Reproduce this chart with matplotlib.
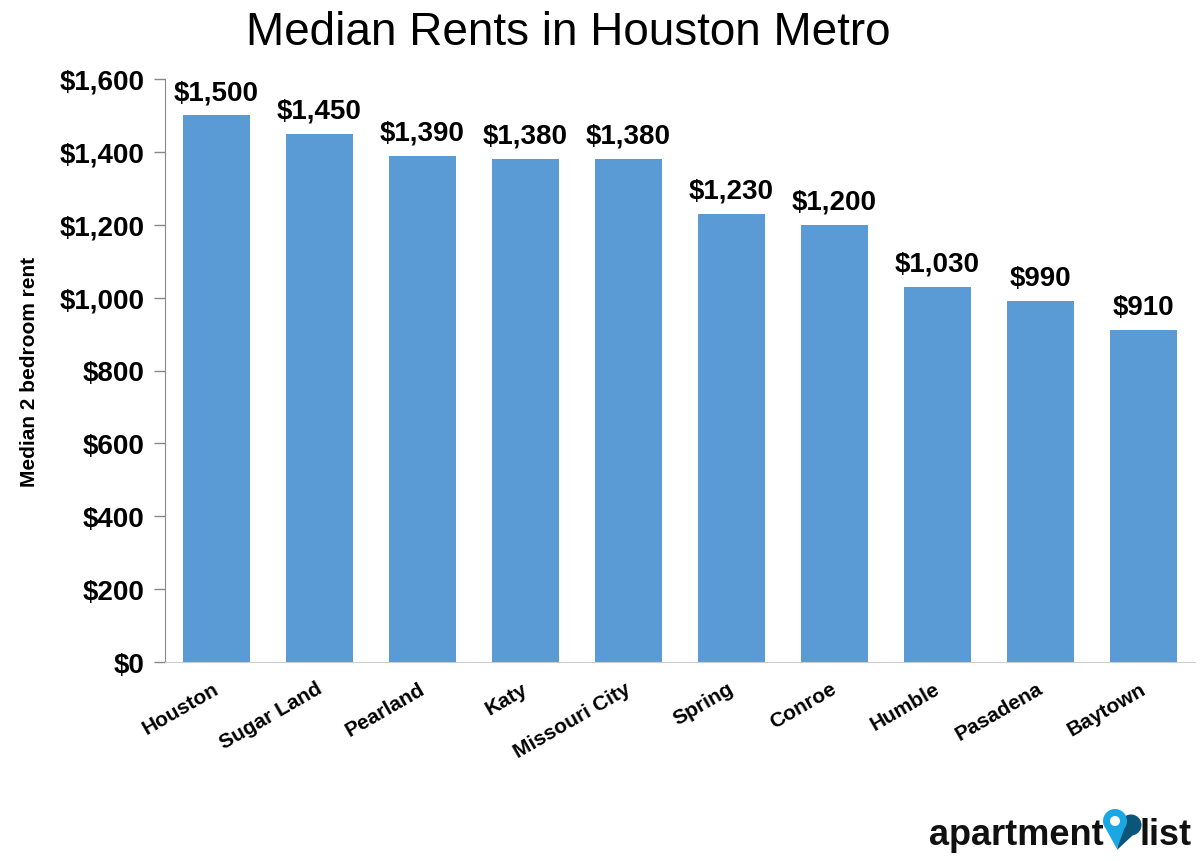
import numpy as np
import matplotlib.pyplot as plt
import matplotlib.transforms as mtransforms
from matplotlib.ticker import FuncFormatter
from matplotlib.patches import Polygon, Circle

cities = ['Houston', 'Sugar Land', 'Pearland', 'Katy', 'Missouri City',
          'Spring', 'Conroe', 'Humble', 'Pasadena', 'Baytown']
rents = [1500, 1450, 1390, 1380, 1380, 1230, 1200, 1030, 990, 910]
y_ticks = [0, 200, 400, 600, 800, 1000, 1200, 1400, 1600]

plt.rcParams['font.family'] = ['Liberation Sans', 'DejaVu Sans']

W, H = 1203, 862
fig = plt.figure(figsize=(W / 100, H / 100), dpi=100)
ax = fig.add_axes([165 / W, 1 - 663 / H, 1030 / W, 583 / H])

x = np.arange(len(cities))
ax.bar(x, rents, width=0.66, color='#5B9BD5', zorder=2)

for xi, r in zip(x, rents):
    ax.text(xi, r + 28, f'${r:,}', ha='center', va='bottom',
            fontsize=20, fontweight='bold')

ax.set_xlim(-0.5, len(cities) - 0.5)
ax.set_ylim(0, 1600)
ax.set_yticks(y_ticks)
ax.yaxis.set_major_formatter(FuncFormatter(lambda v, p: f'${int(v):,}'))
ax.tick_params(axis='y', labelsize=20, length=8, width=1, color='#888888', pad=7)
for lab in ax.get_yticklabels():
    lab.set_fontweight('bold')

ax.set_xticks(x)
ax.set_xticklabels(cities, rotation=30, ha='right', rotation_mode='anchor',
                   fontsize=15, fontweight='bold')
ax.tick_params(axis='x', length=0, pad=12)
shift = mtransforms.ScaledTranslation(-4 / 100, 0, fig.dpi_scale_trans)
for lab in ax.get_xticklabels():
    lab.set_transform(lab.get_transform() + shift)

ax.spines['top'].set_visible(False)
ax.spines['right'].set_visible(False)
ax.spines['left'].set_color('#888888')
ax.spines['bottom'].set_color('#cccccc')

ax.set_ylabel('Median 2 bedroom rent', fontsize=15, fontweight='bold')
ax.yaxis.set_label_coords(-0.122, 0.5)

fig.text(568 / W, 1 - 33 / H, 'Median Rents in Houston Metro',
         ha='center', va='center', fontsize=33)

# logo
fig.text(929 / W, 1 - 836 / H, 'apartment', ha='left', va='center',
         fontsize=26, fontweight='bold', color='#111111')
fig.text(1139 / W, 1 - 836 / H, 'list', ha='left', va='center',
         fontsize=26, fontweight='bold', color='#111111')

lax = fig.add_axes([1100 / W, 1 - 855 / H, 45 / W, 50 / H])
lax.set_xlim(1100, 1145)
lax.set_ylim(855, 805)
lax.axis('off')
t = np.linspace(-0.45 * np.pi, 0.8 * np.pi, 50)
dark = [(1117, 851)] + [(1131 + 10.5 * np.cos(a), 826 - 10.5 * np.sin(a)) for a in t]
lax.add_patch(Polygon(dark, closed=True, color='#0b5578', lw=0))
a = np.linspace(-0.22 * np.pi, 1.22 * np.pi, 60)
pin = [(1115 + 12 * np.cos(v), 822 - 12 * np.sin(v)) for v in a] + [(1117, 850)]
lax.add_patch(Polygon(pin, closed=True, color='#1aa8e4', lw=0))
lax.add_patch(Circle((1115, 822), 5, color='white', lw=0))

fig.savefig('out.png', dpi=100)
